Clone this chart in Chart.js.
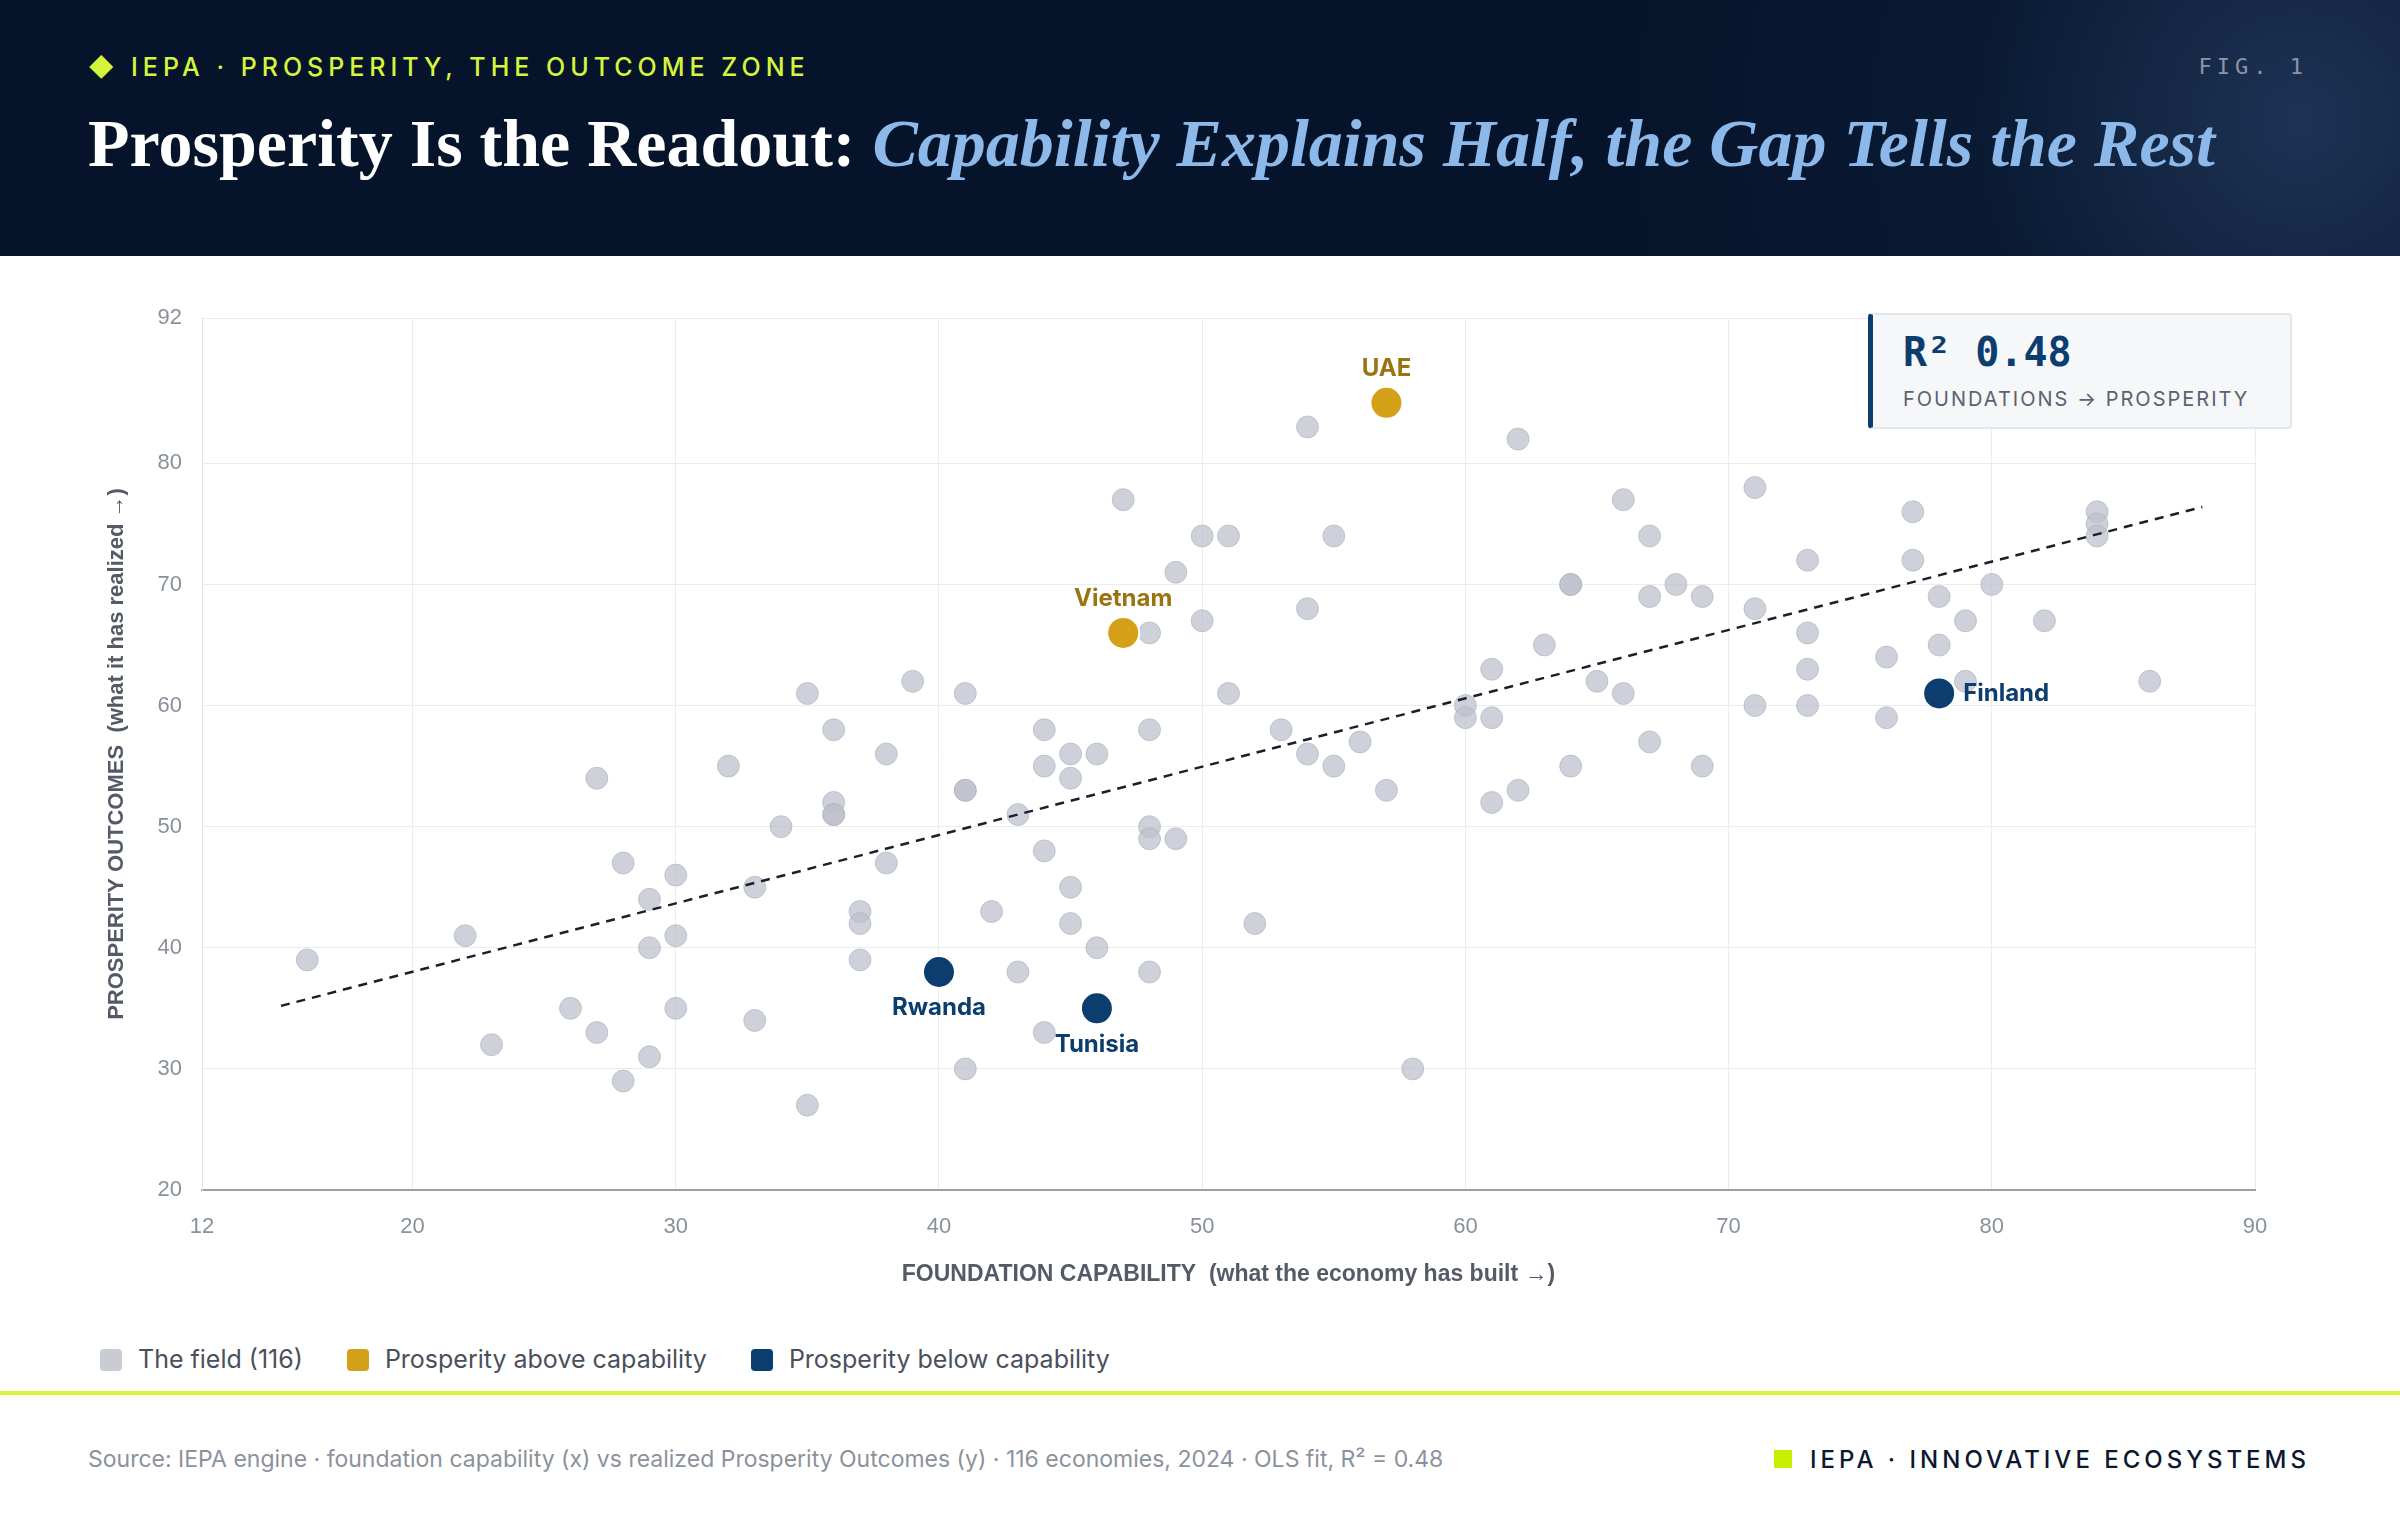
<!DOCTYPE html>
<html><head><meta charset="utf-8">
<script src="https://cdn.jsdelivr.net/npm/chart.js@4.4.1/dist/chart.umd.min.js"></script>
<style>
body{margin:0;width:2400px;height:1520px;background:#fff;font-family:Inter,"Noto Sans",sans-serif;position:relative;overflow:hidden}
#hdr{position:absolute;left:0;top:0;width:2400px;height:256px;background:radial-gradient(circle at 2300px 120px,#1d3354 0,#0a1a33 320px,#06142b 700px)}
#kick{position:absolute;left:88px;top:52px;color:#d4f53c;font-size:25px;letter-spacing:5px;font-weight:500}
#fig{position:absolute;right:92px;top:54px;color:#8b95a6;font-size:22px;letter-spacing:5px;font-family:"DejaVu Sans Mono",monospace}
#title{position:absolute;left:88px;top:104px;color:#fff;font-family:"Liberation Serif","DejaVu Serif",serif;font-weight:bold;font-size:68px;white-space:nowrap}
#title i{color:#8cb8ea;font-weight:bold}
#wrap{position:absolute;left:0;top:256px;width:2400px;height:1064px}
#r2{position:absolute;left:1868px;top:313px;width:424px;height:116px;background:#f6f7f9;border:2px solid #e3e6eb;border-left:5px solid #0b3d6e;border-radius:4px;box-sizing:border-box}
#r2 .v{position:absolute;left:30px;top:14px;font-family:"DejaVu Sans Mono",monospace;font-size:40px;color:#0b3d6e;font-weight:bold}
#r2 .s{position:absolute;left:30px;top:72px;font-size:20px;letter-spacing:2px;color:#5a6270}
#legend{position:absolute;left:100px;top:1344px;font-size:25px;color:#4a505c;display:flex;gap:44px}
#legend span.sw{display:inline-block;width:22px;height:22px;border-radius:4px;vertical-align:-3px;margin-right:16px}
#rule{position:absolute;left:0;top:1391px;width:2400px;height:4px;background:#d4f53c}
#src{position:absolute;left:88px;top:1445px;font-size:23px;color:#8c929c}
#brand{position:absolute;right:90px;top:1445px;font-size:24px;color:#0b1830;letter-spacing:4px;font-weight:500}
#brand b{display:inline-block;width:18px;height:18px;background:#c6f000;margin-right:18px;vertical-align:0}
</style></head><body>
<div id="hdr">
<div id="kick">◆ IEPA · PROSPERITY, THE OUTCOME ZONE</div>
<div id="fig">FIG. 1</div>
<div id="title">Prosperity Is the Readout: <i>Capability Explains Half, the Gap Tells the Rest</i></div>
</div>
<div id="wrap"><canvas id="c"></canvas></div>
<div id="r2"><div class="v">R² 0.48</div><div class="s">FOUNDATIONS → PROSPERITY</div></div>
<div id="legend">
<div><span class="sw" style="background:#c9ccd3"></span>The field (116)</div>
<div><span class="sw" style="background:#d4a017"></span>Prosperity above capability</div>
<div><span class="sw" style="background:#0b3d6e"></span>Prosperity below capability</div>
</div>
<div id="rule"></div>
<div id="src">Source: IEPA engine · foundation capability (x) vs realized Prosperity Outcomes (y) · 116 economies, 2024 · OLS fit, R² = 0.48</div>
<div id="brand"><b></b>IEPA · INNOVATIVE ECOSYSTEMS</div>
<script>
const fieldX=[16,22,23,26,27,27,28,28,29,29,29,30,30,30,32,33,33,34,35,35,36,36,36,36,37,37,37,38,38,39,41,41,41,41,42,43,43,44,44,44,44,45,45,45,45,46,46,47,48,48,48,48,48,49,49,50,50,51,51,52,53,54,54,54,55,55,56,57,58,60,60,61,61,61,62,62,63,64,64,64,65,66,66,67,67,67,68,69,69,71,71,71,73,73,73,73,76,76,77,77,78,78,79,79,80,82,84,84,84,86];
const fieldY=[39,41,32,35,54,33,47,29,44,40,31,46,41,35,55,45,34,50,61,27,58,52,51,51,43,42,39,56,47,62,61,53,53,30,43,51,38,58,55,48,33,56,54,45,42,56,40,77,66,58,50,49,38,71,49,74,67,74,61,42,58,83,68,56,74,55,57,53,30,60,59,63,59,52,82,53,65,70,70,55,62,77,61,74,69,57,70,69,55,78,68,60,72,66,63,60,64,59,76,72,69,65,67,62,70,67,76,75,74,62];
const aboveNames=["UAE","Vietnam"],aboveX=[57,47],aboveY=[85,66];
const belowNames=["Rwanda","Tunisia","Finland"],belowX=[40,46,78],belowY=[38,35,61];
const fitX=[15,88],fitY=[35.2,76.4];
const xTicks=[12,20,30,40,50,60,70,80,90];
const yTicks=[20,30,40,50,60,70,80,92];
const pts=(xs,ys)=>xs.map((x,i)=>({x,y:ys[i]}));
const labelPlugin={id:'lbl',afterDatasetsDraw(ch){
 const ctx=ch.ctx;ctx.save();ctx.font='bold 24px Inter, sans-serif';
 const put=(dsi,names,pos,col)=>{ch.getDatasetMeta(dsi).data.forEach((p,i)=>{
  ctx.fillStyle=col;const ps=pos[i];
  if(ps==='up'){ctx.textAlign='center';ctx.textBaseline='bottom';ctx.fillText(names[i],p.x,p.y-22);}
  else if(ps==='down'){ctx.textAlign='center';ctx.textBaseline='top';ctx.fillText(names[i],p.x,p.y+24);}
  else{ctx.textAlign='left';ctx.textBaseline='middle';ctx.fillText(names[i],p.x+24,p.y);}
 });};
 put(2,aboveNames,['up','up'],'#9a7410');
 put(3,belowNames,['down','down','right'],'#0b3d6e');
 ctx.restore();}};
new Chart(document.getElementById('c'),{type:'scatter',
data:{datasets:[
 {data:pts(fitX,fitY),type:'line',borderColor:'#1a1f2b',borderWidth:2.5,borderDash:[9,7],pointRadius:0,fill:false,order:0},
 {data:pts(fieldX,fieldY),backgroundColor:'rgba(190,194,204,0.75)',borderColor:'rgba(170,175,188,0.6)',borderWidth:1,pointRadius:11,order:2},
 {data:pts(aboveX,aboveY),backgroundColor:'#d4a017',borderColor:'#fff',borderWidth:2,pointRadius:16,order:1},
 {data:pts(belowX,belowY),backgroundColor:'#0b3d6e',borderColor:'#fff',borderWidth:2,pointRadius:16,order:1}
]},
options:{responsive:true,maintainAspectRatio:false,animation:false,
 layout:{padding:{left:100,right:145,top:62,bottom:0}},
 plugins:{legend:{display:false},tooltip:{enabled:false}},
 scales:{
  x:{type:'linear',min:12,max:90,afterBuildTicks:s=>{s.ticks=xTicks.map(v=>({value:v}))},afterFit:s=>{s.height=130},
   grid:{color:'#ececef',drawTicks:false},border:{color:'#9aa0aa',width:2},
   ticks:{color:'#8a909a',font:{size:22},padding:24},
   title:{display:true,text:'FOUNDATION CAPABILITY  (what the economy has built →)',color:'#555b66',font:{size:23,weight:'bold'},align:'center',padding:{top:14,bottom:32}}},
  y:{type:'linear',min:20,max:92,afterBuildTicks:s=>{s.ticks=yTicks.map(v=>({value:v}))},afterFit:s=>{s.width=102},
   grid:{color:'#ececef',drawTicks:false},border:{color:'#e0e2e6'},
   ticks:{color:'#8a909a',font:{size:22},padding:20},
   title:{display:true,text:'PROSPERITY OUTCOMES  (what it has realized →)',color:'#555b66',font:{size:22,weight:'bold'},padding:{bottom:10}}}
 }},
plugins:[labelPlugin]});
</script>
</body></html>
